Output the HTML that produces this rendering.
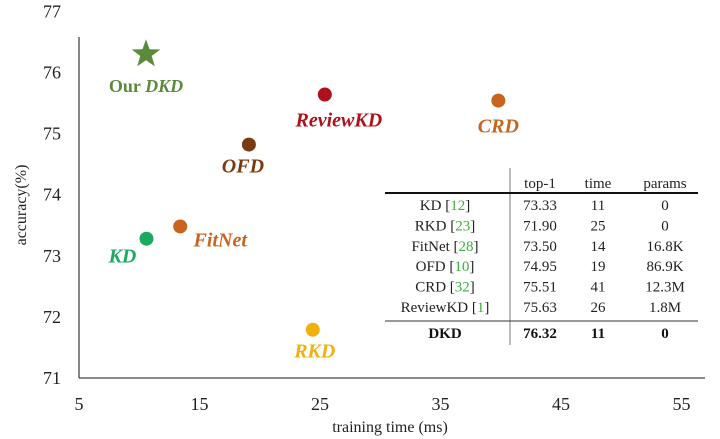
<!DOCTYPE html>
<html><head><meta charset="utf-8"><style>
body{margin:0;background:#fff;}
svg{display:block;font-family:"Liberation Serif",serif;}
</style></head><body>
<svg width="720" height="439" viewBox="0 0 720 439">
<g id="axes"></g><g id="marks"></g><g id="table"></g>
</svg>
<script>
const xTicks=[5,15,25,35,45,55];
const yTicks=[71,72,73,74,75,76,77];
const methods=["Our DKD","KD","FitNet","OFD","ReviewKD","CRD","RKD"];
const times=[10.56,10.6,13.4,19.1,25.4,39.8,24.4];
const accs=[76.30,73.28,73.48,74.82,75.64,75.54,71.79];
const colors=["#5a8a3a","#1aaa60","#c8641e","#7a3a10","#b0101a","#c8641e","#f0b010"];
const labelDx=[0,-24,40,-6,14,0,2];
const labelDy=[38,24,20,28,32,32,28];
const tableNames=["KD","RKD","FitNet","OFD","CRD","ReviewKD"];
const tableRefs=["12","23","28","10","32","1"];
const tableTop1=["73.33","71.90","73.50","74.95","75.51","75.63"];
const tableTime=["11","25","14","19","41","26"];
const tableParams=["0","0","16.8K","86.9K","12.3M","1.8M"];
const NS="http://www.w3.org/2000/svg";
const X=v=>79+(v-5)*12.05, Y=v=>378-(v-71)*61.1;
function mk(tag,attrs,parent,text){const e=document.createElementNS(NS,tag);for(const k in attrs)e.setAttribute(k,attrs[k]);if(text!==undefined)e.textContent=text;parent.appendChild(e);return e;}
const ax=document.getElementById('axes');
let l=mk('line',{x1:79,y1:37,x2:79,y2:378,stroke:'#444','stroke-width':1.3},ax);


l=mk('line',{x1:79,y1:378,x2:705,y2:378,stroke:'#444','stroke-width':1.3},ax);


xTicks.forEach(t=>{const e=mk('text',{x:X(t),y:410,'text-anchor':'middle','font-size':18,fill:'#222'},ax,t);

});
yTicks.forEach(t=>{const e=mk('text',{x:61,y:Y(t)+6,'text-anchor':'end','font-size':18,fill:'#222'},ax,t);

});
let t=mk('text',{x:390,y:432,'text-anchor':'middle','font-size':16,fill:'#222'},ax,'training time (ms)');


t=mk('text',{x:0,y:0,'text-anchor':'middle','font-size':16,fill:'#222',transform:'translate(26,205) rotate(-90)'},ax,'accuracy(%)');


const mg=document.getElementById('marks');
methods.forEach((m,i)=>{const cx=X(times[i]),cy=Y(accs[i]);let e;
if(i===0){const pts=[];for(let k=0;k<10;k++){const r=k%2?6:15,a=-Math.PI/2+k*Math.PI/5;pts.push((cx+r*Math.cos(a)).toFixed(1)+','+(cy+r*Math.sin(a)).toFixed(1));}
e=mk('polygon',{points:pts.join(' '),fill:colors[i]},mg);}
else e=mk('circle',{cx:cx,cy:cy,r:7,fill:colors[i]},mg);


const lb=mk('text',{x:cx+labelDx[i],y:cy+labelDy[i],'text-anchor':'middle','font-size':i===0?18:20,'font-weight':'bold',fill:colors[i],'font-style':i===0?'normal':'italic'},mg);
if(i===0){lb.textContent='Our ';mk('tspan',{'font-style':'italic'},lb,'DKD');}else lb.textContent=m;

});
const tb=document.getElementById('table');


mk('line',{x1:510,y1:168,x2:510,y2:345,stroke:'#777','stroke-width':1},tb);
mk('line',{x1:385,y1:193,x2:698,y2:193,stroke:'#111','stroke-width':2},tb);
mk('line',{x1:385,y1:321,x2:698,y2:321,stroke:'#333','stroke-width':1},tb);
const cx=[540,598,665];
['top-1','time','params'].forEach((h,j)=>mk('text',{x:cx[j],y:188,'text-anchor':'middle','font-size':15,fill:'#222'},tb,h));
tableNames.forEach((n,i)=>{const y=210+i*20.4;
const nt=mk('text',{x:445,y:y,'text-anchor':'middle','font-size':15,fill:'#222'},tb,n+' [');
mk('tspan',{fill:'#3cb03c'},nt,tableRefs[i]);mk('tspan',{},nt,']');
mk('text',{x:cx[0],y:y,'text-anchor':'middle','font-size':15,fill:'#222'},tb,tableTop1[i]);
mk('text',{x:cx[1],y:y,'text-anchor':'middle','font-size':15,fill:'#222'},tb,tableTime[i]);
mk('text',{x:cx[2],y:y,'text-anchor':'middle','font-size':15,fill:'#222'},tb,tableParams[i]);});
[['DKD',445],['76.32',cx[0]],['11',cx[1]],['0',cx[2]]].forEach(a=>mk('text',{x:a[1],y:338,'text-anchor':'middle','font-size':15,'font-weight':'bold',fill:'#111'},tb,a[0]));
</script>
</body></html>
